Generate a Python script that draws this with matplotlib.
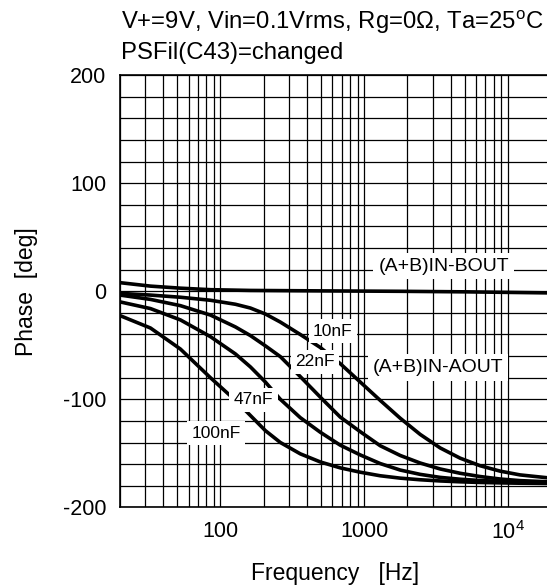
import numpy as np
import matplotlib
matplotlib.use('Agg')
from matplotlib import pyplot as plt
from matplotlib.ticker import FixedLocator, NullFormatter

plt.rcParams['font.family'] = ['Liberation Sans', 'DejaVu Sans']
plt.rcParams['mathtext.fontset'] = 'custom'
plt.rcParams['mathtext.rm'] = 'Liberation Sans'
plt.rcParams['mathtext.it'] = 'Liberation Sans'
plt.rcParams['axes.unicode_minus'] = False

# phase curves (Hz, deg)
f_bout = [20, 32.6, 52.7, 85.2, 161.7, 359.8, 1784, 5050, 20000]
ph_bout = [8, 4.8, 2.9, 1.5, 0.8, 0.5, 0, -0.5, -1.5]

# common frequency points the other curves were read at
f_read = [20, 32.6, 52.7, 85.2, 127.2, 161.7, 205.5, 261.3, 359.8, 495.7,
          682.9, 940.2, 1295, 1784, 2457, 3383, 4660, 6418, 8843, 12171,
          20000]
ph_10n = [-1.9, -3.5, -5.5, -8.3, -12, -15.5, -21, -28.5, -40, -52, -67,
          -84, -101, -117.5, -132.5, -145, -154.5, -161.5, -166.5, -170,
          -173]
ph_22n = [-3.5, -7.5, -13.3, -22, -33, -41, -50.5, -60.5, -79, -98, -116.5,
          -130, -143, -152, -159, -164.5, -168.5, -171.5, -173.8, -175.3,
          -176.5]
ph_47n = [-9.8, -16, -26.5, -42, -58, -70, -84, -100, -117, -130.5, -142.5,
          -151.5, -159.5, -165.5, -169.5, -172.3, -174, -175.2, -176, -176.6,
          -177]
ph_100n = [-22.5, -34, -53.5, -80, -101, -115, -129, -140, -150.5, -158,
           -163.5, -167.5, -170.8, -173, -174.5, -175.6, -176.4, -177,
           -177.4, -177.7, -178]

# curve labels (Hz, deg)
labels = ['(A+B)IN-BOUT', '(A+B)IN-AOUT', '10nF', '22nF', '47nF', '100nF']
label_f = [3580, 3273, 605, 457, 170, 93.5]
label_ph = [23.4, -70.6, -36.8, -65.2, -100.6, -131.5]

fig = plt.figure(figsize=(5.47, 5.85), dpi=100)
ax = fig.add_axes([120 / 547, 77.7 / 585, 431 / 547, 432 / 585])

ax.plot(f_bout, ph_bout, color='black', lw=2.6, zorder=3)
for ph in [ph_10n, ph_22n, ph_47n, ph_100n]:
    ax.plot(f_read, ph, color='black', lw=2.6, zorder=3)

ax.set_xscale('log')
ax.set_xlim(20, 20000)
ax.set_ylim(-200, 200)

ax.xaxis.set_major_locator(FixedLocator([100, 1000, 10000]))
ax.set_xticklabels(['100', '1000', '$10^4$'])
minor = [m * 10 ** d for d in range(1, 5) for m in range(2, 10)]
ax.xaxis.set_minor_locator(FixedLocator(minor))
ax.xaxis.set_minor_formatter(NullFormatter())
ax.set_yticks([-200, -100, 0, 100, 200])
ax.set_yticks(np.arange(-200, 201, 20), minor=True)

ax.grid(True, which='both', color='black', lw=0.9)
ax.tick_params(which='both', length=0, labelsize=15.5, pad=10)
for s in ax.spines.values():
    s.set_linewidth(1.2)

ax.set_xlabel('Frequency   [Hz]', fontsize=16.5, labelpad=13)
ax.set_ylabel('Phase  [deg]', fontsize=16.5, labelpad=18)

for t, fr, ph in zip(labels, label_f, label_ph):
    fs = 14 if t.startswith('(') else 12.5
    ax.text(fr, ph, t, fontsize=fs, ha='center', va='center', zorder=4,
            bbox=dict(boxstyle='square,pad=0.25', fc='white', ec='none'))

fig.text(121 / 547, 1 - 29 / 585,
         'V+=9V, Vin=0.1Vrms, Rg=0$\\Omega$, Ta=25$^{\\mathrm{o}}$C',
         fontsize=17.2, ha='left', va='baseline')
fig.text(121 / 547, 1 - 58.5 / 585, 'PSFil(C43)=changed',
         fontsize=17.2, ha='left', va='baseline')

fig.savefig('out.png', dpi=100)
